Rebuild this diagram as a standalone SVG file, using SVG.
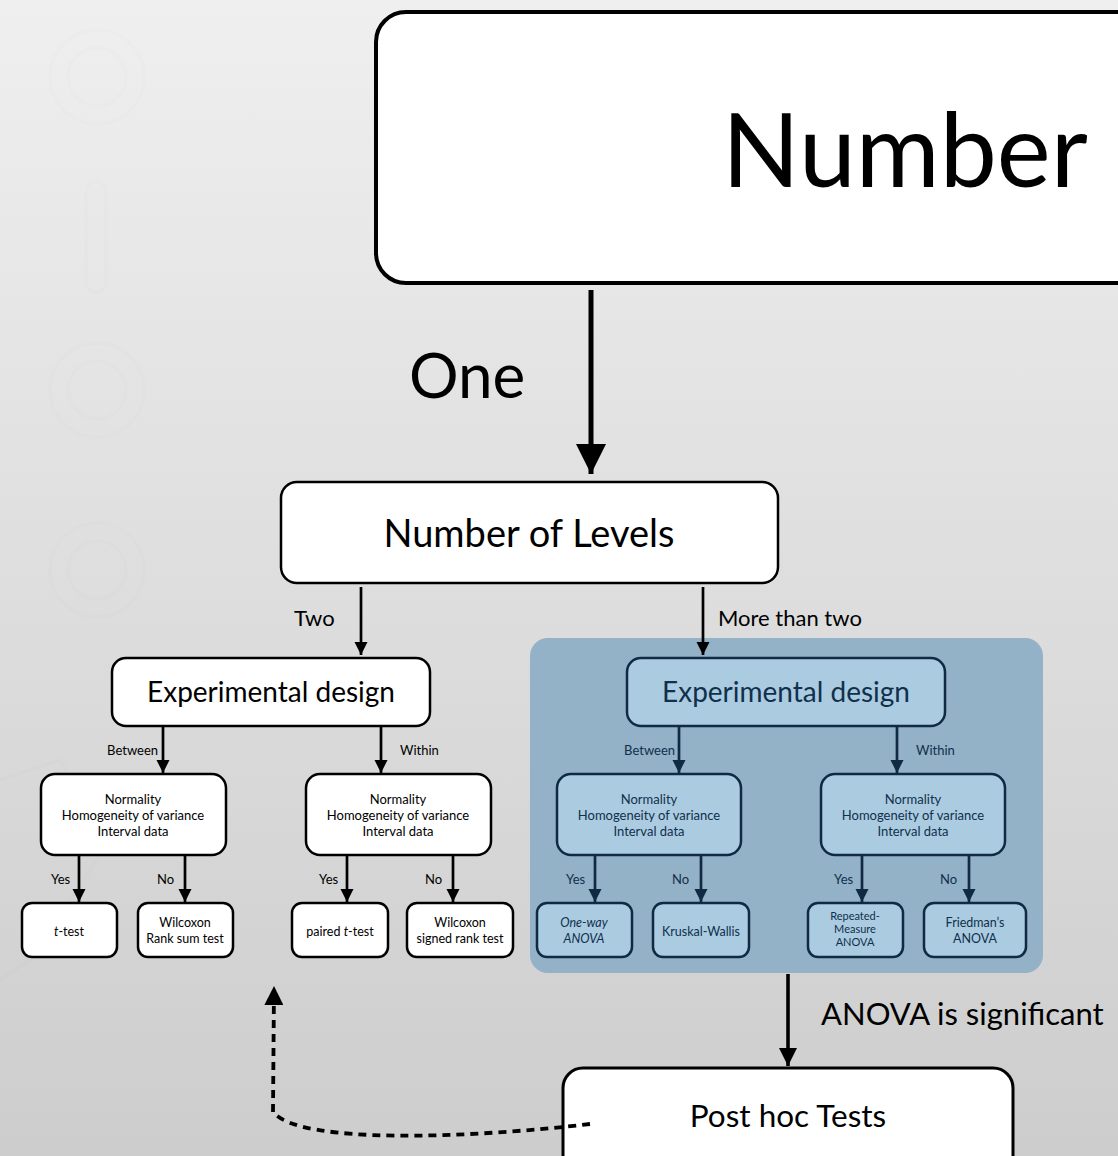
<svg xmlns="http://www.w3.org/2000/svg" width="1118" height="1156" viewBox="0 0 1118 1156">
<defs>
<linearGradient id="bg" x1="0" y1="0" x2="0" y2="1">
<stop offset="0" stop-color="#efefef"/>
<stop offset="1" stop-color="#cdcdcd"/>
</linearGradient>
<marker id="ah" viewBox="0 0 10 10" refX="10" refY="5" markerWidth="5" markerHeight="5" markerUnits="strokeWidth" orient="auto">
<path d="M0 0 L10 5 L0 10 z" fill="#000"/>
</marker>
<marker id="ahn" viewBox="0 0 10 10" refX="10" refY="5" markerWidth="5" markerHeight="5" markerUnits="strokeWidth" orient="auto">
<path d="M0 0 L10 5 L0 10 z" fill="#0f2a42"/>
</marker>
<marker id="ahbig" viewBox="0 0 10 10" refX="10" refY="5" markerWidth="6" markerHeight="6" markerUnits="strokeWidth" orient="auto">
<path d="M0 0 L10 5 L0 10 z" fill="#000"/>
</marker>
<marker id="ahd" viewBox="0 0 10 10" refX="10" refY="5" markerWidth="5" markerHeight="5" markerUnits="strokeWidth" orient="auto">
<path d="M0 0 L10 5 L0 10 z" fill="#000"/>
</marker>
</defs>
<style>
text{font-family:"Lato","Open Sans","Liberation Sans",sans-serif;fill:#000}
.box{fill:#fff;stroke:#000;stroke-width:2.5}
.bbox{fill:#abcbe1;stroke:#0f2a42;stroke-width:2.5}
.navy{fill:#10304c}
.c{text-anchor:middle}
.wm{fill:none;stroke:#000;stroke-opacity:0.008;stroke-width:4}
.ln{stroke:#000;stroke-width:2.7;fill:none;marker-end:url(#ah)}
.lnn{stroke:#0f2a42;stroke-width:2.7;fill:none;marker-end:url(#ahn)}
.s13{font-size:13px}
.s12{font-size:12.5px}
</style>
<rect x="0" y="0" width="1118" height="1156" fill="url(#bg)"/>
<g id="watermark">
<circle class="wm" cx="97" cy="77" r="47"/>
<circle class="wm" cx="97" cy="77" r="29"/>
<rect class="wm" x="86" y="182" width="20" height="110" rx="10"/>
<circle class="wm" cx="97" cy="390" r="47"/>
<circle class="wm" cx="97" cy="390" r="29"/>
<circle class="wm" cx="97" cy="570" r="47"/>
<circle class="wm" cx="97" cy="570" r="29"/>
<path class="wm" d="M0 780 L60 760 L110 840 L30 960 L0 980"/>
</g>
<g id="blue-panel">
<rect x="530" y="638" width="513" height="335" rx="18" fill="#93b1c7"/>
</g>
<g id="top-node">
<rect x="376" y="12" width="800" height="271" rx="30" fill="#fff" stroke="#000" stroke-width="4"/>
<text x="722" y="187" font-size="102">Number</text>
</g>
<g id="levels">
<rect class="box" x="281" y="482" width="497" height="101" rx="16"/>
<text x="529" y="547" font-size="38" class="c">Number of Levels</text>
</g>
<g id="ed-left">
<rect class="box" x="112" y="658" width="318" height="68" rx="14"/>
<text x="271" y="702" font-size="28" class="c">Experimental design</text>
</g>
<g id="ed-right">
<rect class="bbox" x="627" y="658" width="318" height="68" rx="14"/>
<text x="786" y="702" font-size="28" class="c navy">Experimental design</text>
</g>
<g id="cond-1">
<rect class="box" x="41" y="774" width="185" height="81" rx="14"/>
<text x="133" y="804" class="s13 c">Normality</text>
<text x="133" y="820" class="s13 c">Homogeneity of variance</text>
<text x="133" y="836" class="s13 c">Interval data</text>
</g>
<g id="cond-2">
<rect class="box" x="306" y="774" width="185" height="81" rx="14"/>
<text x="398" y="804" class="s13 c">Normality</text>
<text x="398" y="820" class="s13 c">Homogeneity of variance</text>
<text x="398" y="836" class="s13 c">Interval data</text>
</g>
<g id="cond-3">
<rect class="bbox" x="557" y="774" width="184" height="81" rx="14"/>
<text x="649" y="804" class="s13 c navy">Normality</text>
<text x="649" y="820" class="s13 c navy">Homogeneity of variance</text>
<text x="649" y="836" class="s13 c navy">Interval data</text>
</g>
<g id="cond-4">
<rect class="bbox" x="821" y="774" width="184" height="81" rx="14"/>
<text x="913" y="804" class="s13 c navy">Normality</text>
<text x="913" y="820" class="s13 c navy">Homogeneity of variance</text>
<text x="913" y="836" class="s13 c navy">Interval data</text>
</g>
<g id="t-test">
<rect class="box" x="22" y="903" width="95" height="54" rx="10"/>
<text x="69" y="936" class="s12 c"><tspan font-style="italic">t</tspan>-test</text>
</g>
<g id="wilcoxon-rank-sum">
<rect class="box" x="138" y="903" width="95" height="54" rx="10"/>
<text x="185" y="927" class="s12 c">Wilcoxon</text>
<text x="185" y="943" class="s12 c">Rank sum test</text>
</g>
<g id="paired-t-test">
<rect class="box" x="292" y="903" width="96" height="54" rx="10"/>
<text x="340" y="936" class="s12 c">paired <tspan font-style="italic">t</tspan>-test</text>
</g>
<g id="wilcoxon-signed-rank">
<rect class="box" x="407" y="903" width="106" height="54" rx="10"/>
<text x="460" y="927" class="s12 c">Wilcoxon</text>
<text x="460" y="943" class="s12 c">signed rank test</text>
</g>
<g id="one-way-anova">
<rect class="bbox" x="537" y="903" width="95" height="54" rx="10"/>
<text x="584" y="927" class="s12 c navy" font-style="italic">One-way</text>
<text x="584" y="943" class="s12 c navy" font-style="italic">ANOVA</text>
</g>
<g id="kruskal-wallis">
<rect class="bbox" x="653" y="903" width="96" height="54" rx="10"/>
<text x="701" y="936" class="s12 c navy">Kruskal-Wallis</text>
</g>
<g id="rm-anova">
<rect class="bbox" x="808" y="903" width="95" height="54" rx="10"/>
<text x="855" y="920" font-size="11" class="c navy">Repeated-</text>
<text x="855" y="933" font-size="11" class="c navy">Measure</text>
<text x="855" y="946" font-size="11" class="c navy">ANOVA</text>
</g>
<g id="friedman">
<rect class="bbox" x="924" y="903" width="102" height="54" rx="10"/>
<text x="975" y="927" class="s12 c navy">Friedman’s</text>
<text x="975" y="943" class="s12 c navy">ANOVA</text>
</g>
<g id="post-hoc">
<rect x="563" y="1068" width="450" height="120" rx="20" fill="#fff" stroke="#000" stroke-width="3"/>
<text x="788" y="1127" font-size="31.5" class="c">Post hoc Tests</text>
</g>
<g id="connectors">
<line x1="591" y1="290" x2="591" y2="474" stroke="#000" stroke-width="5" marker-end="url(#ahbig)"/>
<line class="ln" x1="361" y1="587" x2="361" y2="655"/>
<line class="ln" x1="703" y1="587" x2="703" y2="655"/>
<line class="ln" x1="163" y1="727" x2="163" y2="773"/>
<line class="ln" x1="381" y1="727" x2="381" y2="773"/>
<line class="ln" x1="79" y1="856" x2="79" y2="902"/>
<line class="ln" x1="185" y1="856" x2="185" y2="902"/>
<line class="ln" x1="347" y1="856" x2="347" y2="902"/>
<line class="ln" x1="453" y1="856" x2="453" y2="902"/>
<line class="lnn" x1="679" y1="727" x2="679" y2="773"/>
<line class="lnn" x1="897" y1="727" x2="897" y2="773"/>
<line class="lnn" x1="595" y1="856" x2="595" y2="902"/>
<line class="lnn" x1="701" y1="856" x2="701" y2="902"/>
<line class="lnn" x1="862" y1="856" x2="862" y2="902"/>
<line class="lnn" x1="969" y1="856" x2="969" y2="902"/>
<line class="ln" x1="788" y1="974" x2="788" y2="1066" style="stroke-width:3.6"/>
<path d="M590 1124 C 470 1138, 300 1145, 273 1112 L 274 986" fill="none" stroke="#000" stroke-width="3.8" stroke-dasharray="8 6" marker-end="url(#ahd)"/>
<text x="409" y="398" font-size="62">One</text>
<text x="294" y="626" font-size="22">Two</text>
<text x="718" y="626" font-size="22">More than two</text>
<text x="821" y="1025" font-size="31">ANOVA is significant</text>
<text x="158" y="755" class="s13" text-anchor="end">Between</text>
<text x="400" y="755" class="s13">Within</text>
<text x="51" y="884" class="s13">Yes</text>
<text x="157" y="884" class="s13">No</text>
<text x="319" y="884" class="s13">Yes</text>
<text x="425" y="884" class="s13">No</text>
<text x="675" y="755" class="s13 navy" text-anchor="end">Between</text>
<text x="916" y="755" class="s13 navy">Within</text>
<text x="566" y="884" class="s13 navy">Yes</text>
<text x="672" y="884" class="s13 navy">No</text>
<text x="834" y="884" class="s13 navy">Yes</text>
<text x="940" y="884" class="s13 navy">No</text>
</g>
</svg>
